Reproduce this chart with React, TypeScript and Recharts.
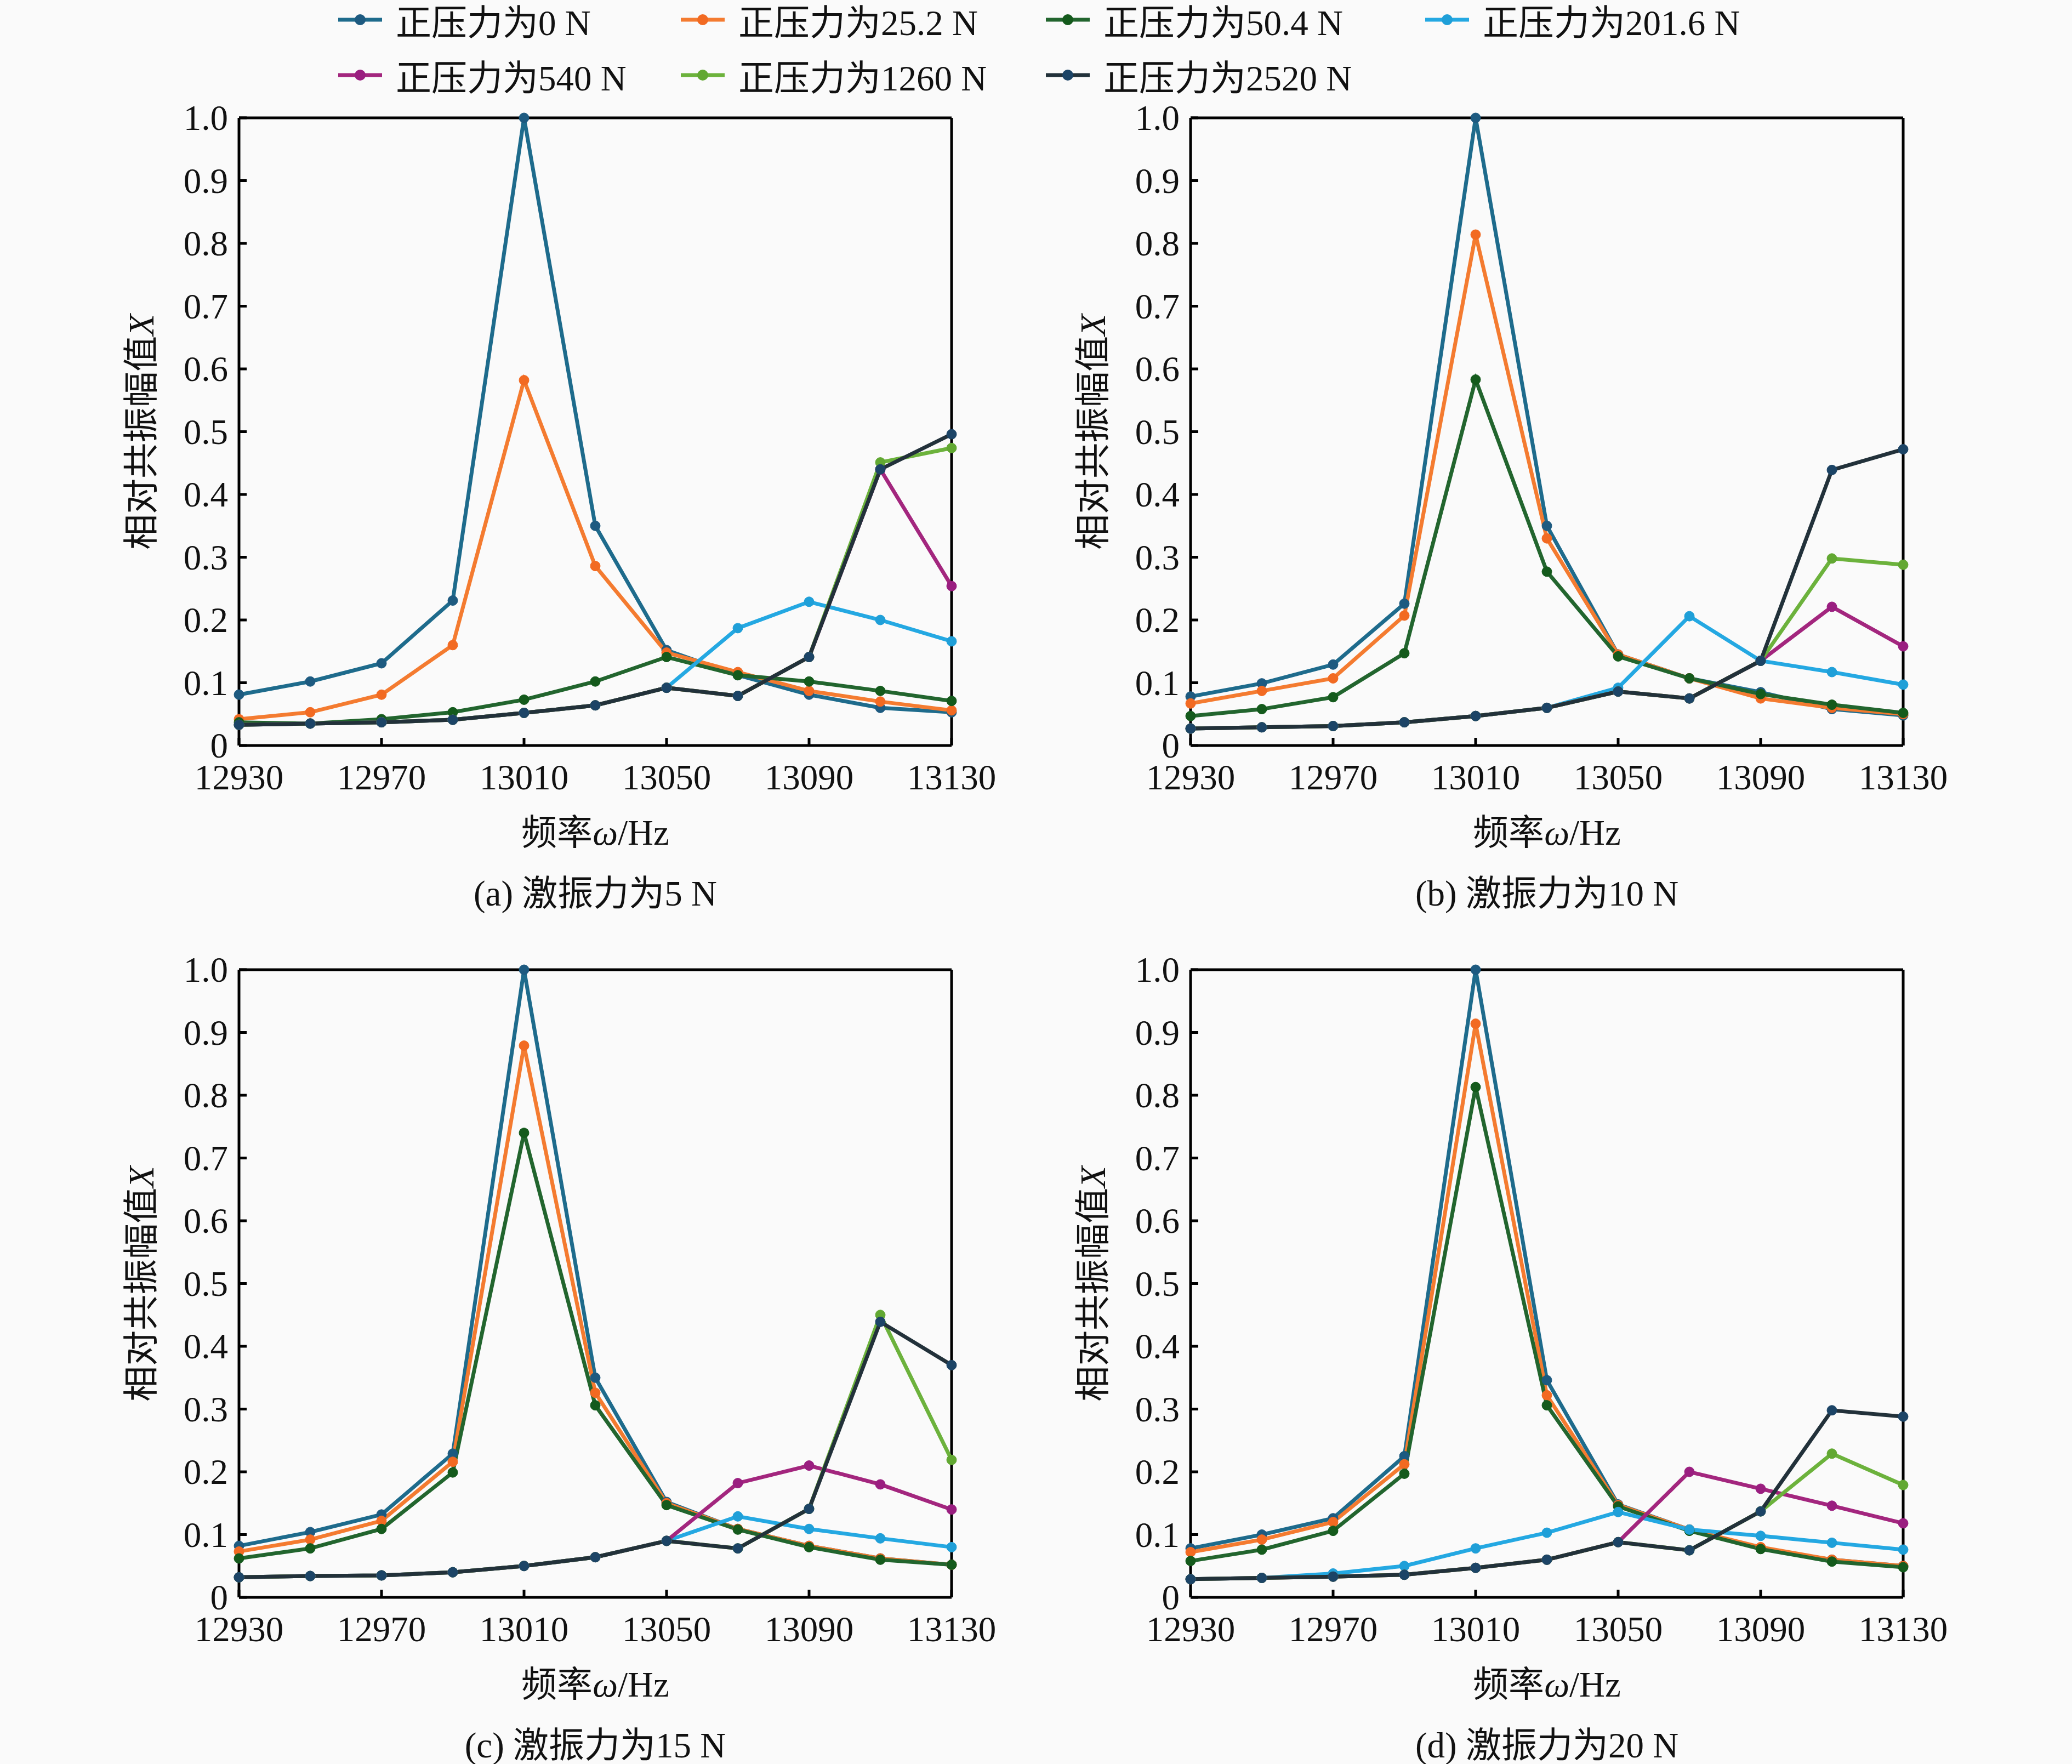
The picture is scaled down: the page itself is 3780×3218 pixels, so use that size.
import React from 'react';
import { LineChart, Line, XAxis, YAxis, ReferenceLine } from 'recharts';

// frequency points (Hz)
const freqs = [12930, 12950, 12970, 12990, 13010, 13030, 13050, 13070, 13090, 13110, 13130];
const xTicks = [12930, 12970, 13010, 13050, 13090, 13130];
const yTicks = [0, 0.1, 0.2, 0.3, 0.4, 0.5, 0.6, 0.7, 0.8, 0.9, 1.0];

const seriesNames = ['正压力为0 N', '正压力为25.2 N', '正压力为50.4 N', '正压力为201.6 N', '正压力为540 N', '正压力为1260 N', '正压力为2520 N'];
const lineColors = ['#1e6b8c', '#f47b30', '#22652e', '#24a8e2', '#a3267e', '#6cb23c', '#22313a'];
const dotColors = ['#1d5a80', '#f26a22', '#145a1c', '#1f9fd8', '#9a1e80', '#62a832', '#1c4466'];

// (a) excitation 5 N
const a0 = [0.081, 0.102, 0.131, 0.231, 1.0, 0.35, 0.152, 0.112, 0.081, 0.06, 0.053];
const a25 = [0.042, 0.053, 0.081, 0.16, 0.582, 0.286, 0.148, 0.117, 0.087, 0.07, 0.056];
const a50 = [0.037, 0.035, 0.042, 0.053, 0.073, 0.102, 0.141, 0.112, 0.102, 0.087, 0.071];
const a201 = [0.033, 0.035, 0.037, 0.041, 0.052, 0.064, 0.092, 0.187, 0.229, 0.2, 0.166];
const a540 = [0.033, 0.035, 0.037, 0.041, 0.052, 0.064, 0.092, 0.079, 0.141, 0.44, 0.254];
const a1260 = [0.033, 0.035, 0.037, 0.041, 0.052, 0.064, 0.092, 0.079, 0.141, 0.451, 0.474];
const a2520 = [0.033, 0.035, 0.037, 0.041, 0.052, 0.064, 0.092, 0.079, 0.141, 0.44, 0.496];

// (b) excitation 10 N
const b0 = [0.078, 0.099, 0.129, 0.226, 1.0, 0.35, 0.145, 0.107, 0.085, 0.058, 0.048];
const b25 = [0.067, 0.087, 0.107, 0.207, 0.814, 0.33, 0.145, 0.107, 0.075, 0.06, 0.05];
const b50 = [0.047, 0.058, 0.077, 0.147, 0.583, 0.277, 0.142, 0.107, 0.082, 0.065, 0.052];
const b201 = [0.027, 0.029, 0.031, 0.037, 0.047, 0.06, 0.092, 0.206, 0.135, 0.117, 0.097];
const b540 = [0.027, 0.029, 0.031, 0.037, 0.047, 0.06, 0.086, 0.075, 0.135, 0.221, 0.158];
const b1260 = [0.027, 0.029, 0.031, 0.037, 0.047, 0.06, 0.086, 0.075, 0.135, 0.298, 0.288];
const b2520 = [0.027, 0.029, 0.031, 0.037, 0.047, 0.06, 0.086, 0.075, 0.135, 0.439, 0.472];

// (c) excitation 15 N
const c0 = [0.082, 0.104, 0.132, 0.229, 1.0, 0.35, 0.152, 0.109, 0.082, 0.062, 0.052];
const c25 = [0.073, 0.092, 0.122, 0.216, 0.879, 0.326, 0.15, 0.109, 0.082, 0.062, 0.052];
const c50 = [0.062, 0.078, 0.109, 0.199, 0.74, 0.306, 0.147, 0.108, 0.08, 0.06, 0.052];
const c201 = [0.032, 0.034, 0.035, 0.04, 0.05, 0.064, 0.09, 0.129, 0.109, 0.094, 0.08];
const c540 = [0.032, 0.034, 0.035, 0.04, 0.05, 0.064, 0.09, 0.182, 0.21, 0.18, 0.14];
const c1260 = [0.032, 0.034, 0.035, 0.04, 0.05, 0.064, 0.09, 0.078, 0.141, 0.45, 0.219];
const c2520 = [0.032, 0.034, 0.035, 0.04, 0.05, 0.064, 0.09, 0.078, 0.141, 0.439, 0.37];

// (d) excitation 20 N
const d0 = [0.078, 0.1, 0.126, 0.225, 1.0, 0.346, 0.148, 0.108, 0.078, 0.06, 0.05];
const d25 = [0.072, 0.092, 0.12, 0.212, 0.914, 0.322, 0.147, 0.108, 0.08, 0.06, 0.05];
const d50 = [0.058, 0.076, 0.106, 0.197, 0.813, 0.306, 0.145, 0.106, 0.077, 0.057, 0.048];
const d201 = [0.029, 0.031, 0.038, 0.05, 0.078, 0.103, 0.136, 0.108, 0.098, 0.087, 0.076];
const d540 = [0.029, 0.031, 0.033, 0.036, 0.047, 0.06, 0.088, 0.2, 0.173, 0.146, 0.118];
const d1260 = [0.029, 0.031, 0.033, 0.036, 0.047, 0.06, 0.088, 0.075, 0.137, 0.229, 0.179];
const d2520 = [0.029, 0.031, 0.033, 0.036, 0.047, 0.06, 0.088, 0.075, 0.137, 0.298, 0.288];

const FONT = "'Liberation Serif', 'Times New Roman', 'Noto Sans CJK SC', serif";
const FS = 65;

const buildRows = (series: number[][]) =>
  freqs.map((f, i) => {
    const row: any = { f };
    series.forEach((s, k) => { row['s' + k] = s[i]; });
    return row;
  });

const YTick = (props: any) => {
  const { x, y, payload } = props;
  const v = payload.value;
  return (
    <g>
      <line x1={x} x2={x + 14} y1={y} y2={y} stroke="#000" strokeWidth={5} />
      <text x={x - 20} y={y} textAnchor="end" dominantBaseline="central" fontFamily={FONT} fontSize={FS} fill="#111">
        {v === 0 ? '0' : v.toFixed(1)}
      </text>
    </g>
  );
};

const XTick = (props: any) => {
  const { x, y, payload } = props;
  return (
    <g>
      <line x1={x} x2={x} y1={y} y2={y - 14} stroke="#000" strokeWidth={5} />
      <text x={x} y={y + 58} textAnchor="middle" dominantBaseline="central" fontFamily={FONT} fontSize={FS} fill="#111">
        {payload.value}
      </text>
    </g>
  );
};

const PW = 1300;
const PH = 1145;

function Panel({ left, top, series, caption }: { left: number; top: number; series: number[][]; caption: string }) {
  const rows = buildRows(series);
  const txt: React.CSSProperties = { position: 'absolute', fontFamily: FONT, fontSize: FS, color: '#111', whiteSpace: 'nowrap', transform: 'translate(-50%, -50%)', lineHeight: 1 };
  return (
    <>
      <div style={{ position: 'absolute', left: left - 300, top: top - 40 }}>
        <LineChart width={300 + PW + 140} height={40 + PH + 100} data={rows} margin={{ top: 40, right: 140, left: 0, bottom: 0 }} style={{ overflow: 'visible' }}>
          <XAxis
            dataKey="f"
            type="number"
            domain={[12930, 13130]}
            ticks={xTicks}
            height={100}
            tickSize={0}
            tickMargin={0}
            tickLine={false}
            axisLine={{ stroke: '#000', strokeWidth: 5 }}
            tick={<XTick />}
            interval={0}
          />
          <YAxis
            type="number"
            domain={[0, 1]}
            ticks={yTicks}
            width={300}
            tickSize={0}
            tickMargin={0}
            tickLine={false}
            axisLine={{ stroke: '#000', strokeWidth: 5 }}
            tick={<YTick />}
            interval={0}
          />
          <ReferenceLine y={1} stroke="#000" strokeWidth={5} />
          <ReferenceLine x={13130} stroke="#000" strokeWidth={5} />
          {series.map((_, k) => (
            <Line
              key={k}
              type="linear"
              dataKey={'s' + k}
              stroke={lineColors[k]}
              strokeWidth={7}
              dot={{ r: 9, fill: dotColors[k], stroke: dotColors[k], strokeWidth: 1 }}
              activeDot={false}
              isAnimationActive={false}
            />
          ))}
        </LineChart>
      </div>
      <div style={{ ...txt, left: left - 178, top: top + PH / 2, transform: 'translate(-50%, -50%) rotate(-90deg)' }}>
        相对共振幅值<i>X</i>
      </div>
      <div style={{ ...txt, left: left + PW / 2, top: top + PH + 159 }}>
        频率<i>ω</i>/Hz
      </div>
      <div style={{ ...txt, left: left + PW / 2, top: top + PH + 270 }}>{caption}</div>
    </>
  );
}

const legendX = [657, 1282, 1948, 2640, 657, 1282, 1948];
const legendY = [36, 36, 36, 36, 137, 137, 137];

export default function App() {
  return (
    <div style={{ position: 'absolute', left: 0, top: 0, width: 3780, height: 3218, background: '#fafafa', overflow: 'hidden' }}>
      {seriesNames.map((name, k) => (
        <div key={name} style={{ position: 'absolute', left: legendX[k] - 40, top: legendY[k] - 40, height: 80, display: 'flex', alignItems: 'center', fontFamily: FONT, fontSize: FS, color: '#111', whiteSpace: 'nowrap' }}>
          <svg width={80} height={80} style={{ marginRight: 25 }}>
            <line x1={0} x2={80} y1={40} y2={40} stroke={lineColors[k]} strokeWidth={7} />
            <circle cx={40} cy={40} r={10} fill={dotColors[k]} />
          </svg>
          <span>{name}</span>
        </div>
      ))}
      <Panel left={436} top={215} series={[a0, a25, a50, a201, a540, a1260, a2520]} caption="(a) 激振力为5 N" />
      <Panel left={2172} top={215} series={[b0, b25, b50, b201, b540, b1260, b2520]} caption="(b) 激振力为10 N" />
      <Panel left={436} top={1769} series={[c0, c25, c50, c201, c540, c1260, c2520]} caption="(c) 激振力为15 N" />
      <Panel left={2172} top={1769} series={[d0, d25, d50, d201, d540, d1260, d2520]} caption="(d) 激振力为20 N" />
    </div>
  );
}
